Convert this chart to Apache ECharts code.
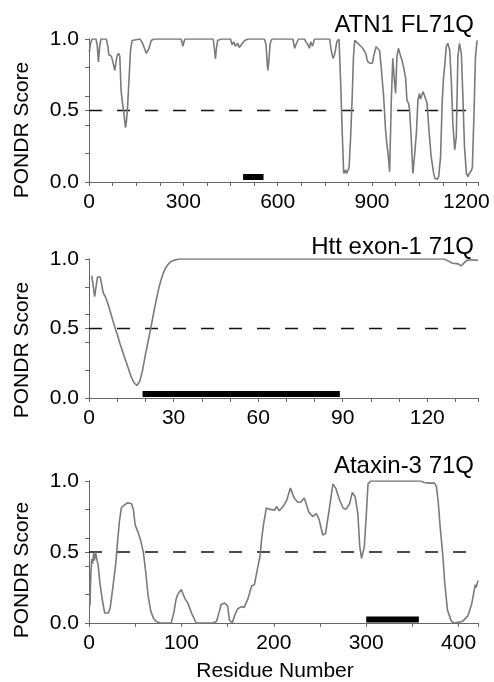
<!DOCTYPE html>
<html>
<head>
<meta charset="utf-8">
<script src="https://cdn.jsdelivr.net/npm/echarts@6/dist/echarts.min.js"></script>
<style>
html,body{margin:0;padding:0;background:#fff;}
#c{width:494px;height:682px;}
</style>
</head>
<body>
<div id="c"></div>
<script>
// ---------- DATA ----------
const titles = ['ATN1 FL71Q', 'Htt exon-1 71Q', 'Ataxin-3 71Q'];
const yAxisName = 'PONDR Score';
const xAxisName = 'Residue Number';
const threshold = 0.5;

const atn1Residue = [1,5,10,22,26,30,34,38,55,60,63,68,71,76,80,82,86,89,94,98,102,106,111,116,119,122,127,132,137,142,162,168,174,182,186,190,198,206,293,296,299,302,305,395,399,402,405,409,420,450,455,460,466,470,473,478,483,488,495,505,558,563,567,569,572,576,582,648,651,654,658,661,666,685,690,696,701,705,707,711,714,717,765,770,776,781,788,795,800,805,810,813,816,819,821,824,827,832,837,841,845,850,855,860,866,872,880,884,887,894,901,906,913,919,924,929,933,937,943,947,952,956,961,966,971,975,979,984,990,995,1000,1007,1011,1014,1016,1019,1025,1030,1035,1041,1046,1051,1054,1057,1062,1066,1069,1075,1081,1088,1096,1100,1104,1108,1112,1118,1123,1127,1131,1136,1141,1147,1152,1157,1163,1168,1173,1178,1184,1189,1194,1200,1205,1209,1212,1216,1219,1224,1229,1234];
const atn1Score = [0.91,0.97,1.0,1.0,0.96,0.84,0.95,1.0,1.0,0.95,0.89,0.9,0.88,0.84,0.8,0.78,0.84,0.88,0.9,0.88,0.64,0.56,0.48,0.38,0.42,0.5,0.71,0.92,0.99,1.0,1.0,0.98,0.95,0.9,0.91,0.93,0.99,1.0,1.0,0.97,0.95,0.98,1.0,1.0,0.93,0.86,0.93,0.99,1.0,1.0,0.96,0.98,0.95,0.96,0.97,0.94,0.95,0.97,0.99,1.0,1.0,0.96,0.82,0.78,0.85,0.97,1.0,1.0,0.97,0.935,0.96,0.97,1.0,1.0,0.98,0.96,0.935,0.98,0.97,0.95,0.946,1.0,1.0,0.923,0.865,0.89,0.98,1.0,0.713,0.364,0.06,0.07,0.084,0.06,0.056,0.07,0.1,0.317,0.597,0.876,0.99,0.98,0.97,0.96,0.946,0.93,0.9,0.86,0.84,0.83,0.83,0.888,0.946,0.958,0.92,0.807,0.7,0.597,0.364,0.27,0.177,0.072,0.55,0.865,0.713,0.62,0.876,0.935,0.888,0.853,0.807,0.725,0.573,0.56,0.55,0.515,0.294,0.06,0.177,0.34,0.573,0.62,0.58,0.597,0.632,0.61,0.62,0.55,0.364,0.177,0.06,0.025,0.014,0.02,0.037,0.177,0.55,0.72,0.807,0.946,0.97,0.923,0.713,0.41,0.224,0.317,0.876,0.97,0.9,0.597,0.247,0.06,0.037,0.06,0.072,0.08,0.1,0.457,0.876,0.99];

const httResidue = [1,2,3,4,5,6,7,8,9,10,11,12,13,14,15,16,17,18,19,20,21,22,23,24,25,26,27,28,29,30,32,126,127,129,131,132,133,134,136,138];
const httScore = [0.88,0.73,0.87,0.87,0.76,0.72,0.66,0.59,0.52,0.46,0.39,0.33,0.27,0.21,0.15,0.11,0.09,0.12,0.2,0.31,0.41,0.51,0.62,0.72,0.81,0.88,0.93,0.96,0.98,0.99,1.0,1.0,0.99,0.97,0.965,0.95,0.97,0.99,0.995,0.99];

const atx3Residue = [1,2,3,4,5,6,7,8,10,12,15,17,19,21,23,26,29,31,33,35,38,42,46,48,50,53,56,59,61,64,67,70,73,77,89,92,94,96,98,100,102,104,107,111,116,134,138,141,143,147,150,152,155,158,161,165,168,172,176,179,182,185,187,189,192,196,201,203,206,210,214,218,222,226,229,233,238,242,246,249,253,256,260,264,267,271,275,278,282,285,288,291,293,295,297,298,300,302,305,359,363,368,374,376,378,380,383,385,388,392,395,404,410,414,418,419,421];
const atx3Score = [0.12,0.35,0.45,0.42,0.49,0.44,0.5,0.49,0.4,0.27,0.14,0.07,0.06,0.07,0.11,0.26,0.42,0.58,0.72,0.81,0.83,0.847,0.84,0.8,0.69,0.64,0.58,0.49,0.38,0.19,0.08,0.03,0.01,0,0,0.08,0.16,0.2,0.22,0.235,0.2,0.17,0.14,0.07,0,0,0.01,0.08,0.13,0.14,0.12,0.02,0,0.06,0.1,0.115,0.11,0.17,0.26,0.27,0.37,0.47,0.6,0.7,0.81,0.8,0.795,0.82,0.79,0.82,0.866,0.95,0.88,0.85,0.85,0.88,0.78,0.75,0.77,0.73,0.62,0.63,0.8,0.98,0.95,0.87,0.81,0.8,0.84,0.92,0.89,0.77,0.54,0.455,0.45,0.54,0.75,0.98,1.0,1.0,0.99,0.985,0.985,0.96,0.85,0.68,0.47,0.28,0.09,0.015,0,0.01,0.05,0.13,0.27,0.25,0.3];

// polyQ region bars [start, end, level]
const polyQStart = [490, 19, 300];
const polyQEnd = [555, 89, 357];
const polyQLevel = [0.035, 0.028, 0.024];

const xMax = [1237, 138, 421];
const xInterval = [300, 30, 100];
const xMinorSplit = [4, 3, 2];

// ---------- LAYOUT ----------
const gridTop = [39, 259, 481];
const gridHeight = [143, 139, 142];
const titleY = [25, 247, 466];
const yNameY = [130, 350, 570];
const FONT = '"Liberation Sans", Arial, sans-serif';
const axisGray = '#666666';

const residues = [atn1Residue, httResidue, atx3Residue];
const scores = [atn1Score, httScore, atx3Score];

const grids = [], xAxes = [], yAxes = [], series = [], graphics = [];
for (let i = 0; i < 3; i++) {
  grids.push({left: 89, width: 389, top: gridTop[i], height: gridHeight[i], containLabel: false});
  xAxes.push({
    type: 'value', gridIndex: i, min: 0, max: xMax[i], interval: xInterval[i],
    axisLine: {show: true, onZero: false, lineStyle: {color: axisGray, width: 1}},
    axisTick: {show: true, length: 4, lineStyle: {color: axisGray}},
    minorTick: {show: true, splitNumber: xMinorSplit[i], length: 4, lineStyle: {color: axisGray}},
    splitLine: {show: false},
    axisLabel: {
      show: true, color: '#000', fontSize: 21, fontFamily: FONT, margin: 10,
      showMaxLabel: false,
      formatter: (v) => (Math.abs(v % xInterval[i]) < 1e-6 ? String(v) : '')
    }
  });
  // main y axis with labels
  yAxes.push({
    type: 'value', gridIndex: i, min: 0, max: 1, interval: 0.5,
    axisLine: {show: true, lineStyle: {color: axisGray, width: 1}},
    axisTick: {show: true, length: 4, lineStyle: {color: axisGray}},
    splitLine: {show: false},
    axisLabel: {color: '#000', fontSize: 21, fontFamily: FONT, margin: 10,
      formatter: (v) => v.toFixed(1)}
  });
  // secondary y axis for the 0.2 tick marks
  yAxes.push({
    type: 'value', gridIndex: i, min: 0, max: 1, interval: 0.2, position: 'left', offset: 0,
    axisLine: {show: true, lineStyle: {color: axisGray, width: 1}},
    axisTick: {show: true, length: 4, lineStyle: {color: axisGray}},
    splitLine: {show: false},
    axisLabel: {show: false}
  });

  series.push({
    type: 'line', xAxisIndex: i, yAxisIndex: 2 * i,
    data: residues[i].map((r, k) => [r, scores[i][k]]),
    showSymbol: false, symbol: 'none', silent: true,
    lineStyle: {color: '#7a7a7a', width: 1.6},
    z: 3
  });
  series.push({
    type: 'line', xAxisIndex: i, yAxisIndex: 2 * i,
    data: [[0, threshold], [xMax[i], threshold]],
    symbol: 'none', silent: true,
    lineStyle: {color: '#111', width: 1.3, type: [13, 15]},
    z: 2
  });
  series.push({
    type: 'line', xAxisIndex: i, yAxisIndex: 2 * i,
    data: [[polyQStart[i], polyQLevel[i]], [polyQEnd[i], polyQLevel[i]]],
    symbol: 'none', silent: true,
    lineStyle: {color: '#000', width: 6, cap: 'butt'},
    z: 4
  });

  graphics.push({
    type: 'text', x: 474, y: titleY[i],
    style: {text: titles[i], font: '24px ' + FONT, fill: '#000', align: 'right', verticalAlign: 'middle'}
  });
  graphics.push({
    type: 'text', x: 22, y: yNameY[i], rotation: Math.PI / 2,
    style: {text: yAxisName, font: '21px ' + FONT, fill: '#000', align: 'center', verticalAlign: 'middle'}
  });
}
graphics.push({
  type: 'text', x: 275, y: 671,
  style: {text: xAxisName, font: '21px ' + FONT, fill: '#000', align: 'center', verticalAlign: 'middle'}
});

const chart = echarts.init(document.getElementById('c'), null, {renderer: 'canvas'});
chart.setOption({
  animation: false,
  backgroundColor: '#fff',
  grid: grids,
  xAxis: xAxes,
  yAxis: yAxes,
  series: series,
  graphic: graphics
});
</script>
</body>
</html>
